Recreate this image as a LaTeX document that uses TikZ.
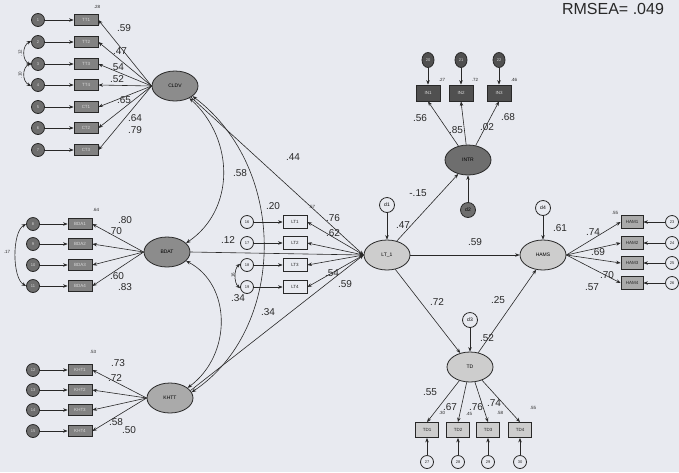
\documentclass[tikz,border=0pt]{standalone}
\usepackage{fontspec}
\setmainfont{Liberation Sans}
\usepackage{xcolor}
\usetikzlibrary{arrows.meta, shapes.geometric}
\definecolor{bgpaper}{RGB}{232,234,240}
\definecolor{ink}{RGB}{40,40,40}
\definecolor{latdark}{RGB}{140,140,140}
\definecolor{latmid}{RGB}{170,170,170}
\definecolor{latlight}{RGB}{205,205,205}
\definecolor{latintr}{RGB}{110,110,110}
\definecolor{inddark}{RGB}{130,130,130}
\definecolor{indintr}{RGB}{80,80,80}
\definecolor{errdark}{RGB}{110,110,110}

\begin{document}
\begin{tikzpicture}[
  x=1pt, y=-1pt,
  lat/.style   = {draw=ink, thick, ellipse, minimum width=46pt, minimum height=30pt,
                  inner sep=0pt, font=\fontsize{5}{6}\selectfont, fill=latdark},
  ind/.style   = {draw=ink, thick, rectangle, minimum width=24pt, minimum height=11pt,
                  inner sep=0pt, font=\fontsize{4.5}{5}\selectfont, fill=inddark,
                  text=white!85!black},
  err/.style   = {draw=ink, thick, circle, minimum size=13pt, inner sep=0pt,
                  font=\fontsize{4}{5}\selectfont, fill=errdark, text=white!85!black},
  dist/.style  = {draw=ink, thick, circle, minimum size=15pt, inner sep=0pt,
                  font=\fontsize{5}{6}\selectfont, fill=bgpaper},
  arr/.style   = {-{Stealth[length=4.5pt,width=3.5pt]}, semithick, ink},
  cov/.style   = {{Stealth[length=4.5pt,width=3.5pt]}-{Stealth[length=4.5pt,width=3.5pt]},
                  semithick, ink},
  coef/.style  = {font=\fontsize{10}{11}\selectfont, text=ink, inner sep=0pt},
  rsq/.style   = {font=\fontsize{4.5}{5}\selectfont, text=ink, inner sep=0pt},
  tiny/.style  = {font=\fontsize{4.5}{5}\selectfont, text=ink, inner sep=0pt}
]
\fill[bgpaper] (0,0) rectangle (679,472);
\useasboundingbox (0,0) rectangle (679,472);

\node[font=\fontsize{16}{18}\selectfont, text=ink] (rmsea) at (613,9) {RMSEA= .049};

%% ---- CLDV block ----
\node[lat] (cldv) at (175,86) {CLDV};
\foreach \i/\y/\t in {1/20/TT1, 2/42/TT2, 3/64/TT3, 4/85/TT4, 5/107/CT1, 6/128/CT2, 7/150/CT3}{
  \node[err] (cldve\i) at (38,\y) {\i};
  \node[ind] (cldvi\i) at (86,\y) {\t};
  \draw[arr] (cldve\i) -- (cldvi\i);
  \draw[arr] (cldv.west) -- (cldvi\i.east);
}
\foreach \v/\x/\y [count=\k] in {.59/124/28, .47/120/51, .54/117/67, .52/117/79,
                                 .65/124/100, .64/135/118, .79/135/130}
  \node[coef] (cldvc\k) at (\x,\y) {\v};
\node[rsq] (cldvr) at (97,7) {.28};
% error covariances
\draw[cov] (cldve2.170) .. controls (22,46) and (22,60) .. (cldve3.190);
\draw[cov] (cldve3.170) .. controls (22,68) and (22,81) .. (cldve4.190);
\node[tiny, rotate=90] (cldvk1) at (20,53) {.12};
\node[tiny, rotate=90] (cldvk2) at (20,75) {.10};

%% ---- BDAT block ----
\node[lat] (bdat) at (167,252) {BDAT};
\foreach \i/\y/\t [evaluate=\i as \n using int(\i+7)] in {1/224/BDA1, 2/244/BDA2, 3/265/BDA3, 4/286/BDA4}{
  \node[err] (bdate\i) at (33,\y) {\n};
  \node[ind] (bdati\i) at (80,\y) {\t};
  \draw[arr] (bdate\i) -- (bdati\i);
  \draw[arr] (bdat.west) -- (bdati\i.east);
}
\foreach \v/\x/\y [count=\k] in {.80/125/220, .70/115/231, .60/117/276, .83/125/287}
  \node[coef] (bdatc\k) at (\x,\y) {\v};
\node[rsq] (bdatr) at (96,210) {.64};
\draw[cov] (bdate1.west) .. controls (12,232) and (12,278) .. (bdate4.west);
\node[tiny] (bdatk) at (7,252) {.17};

%% ---- KHTT block ----
\node[lat, fill=latmid] (khtt) at (170,398) {KHTT};
\foreach \i/\y/\t [evaluate=\i as \n using int(\i+11)] in {1/370/KHT1, 2/390/KHT2, 3/410/KHT3, 4/431/KHT4}{
  \node[err] (khtte\i) at (33,\y) {\n};
  \node[ind] (khtti\i) at (80,\y) {\t};
  \draw[arr] (khtte\i) -- (khtti\i);
  \draw[arr] (khtt.west) -- (khtti\i.east);
}
\foreach \v/\x/\y [count=\k] in {.73/118/363, .72/115/378, .58/116/422, .50/129/430}
  \node[coef] (khttc\k) at (\x,\y) {\v};
\node[rsq] (khttr) at (93,352) {.53};

%% ---- exogenous covariances ----
\draw[cov] (cldv.-40) .. controls (235,140) and (235,210) .. (bdat.25);
\draw[cov] (cldv.-30) .. controls (290,170) and (285,330) .. (khtt.15);
\draw[cov] (bdat.-25) .. controls (232,285) and (232,355) .. (khtt.30);
\node[coef] (covc1) at (240,173) {.58};
\node[coef] (covc2) at (273,206) {.20};
\node[coef] (covc3) at (238,298) {.34};

%% ---- LT_1 block ----
\node[lat, fill=latlight] (lt) at (387,255) {LT\_1};
\node[dist] (d1) at (387,205) {d1};
\draw[arr] (d1) -- (lt);
\foreach \i/\y/\t [evaluate=\i as \n using int(\i+15)] in {1/222/LT1, 2/243/LT2, 3/265/LT3, 4/287/LT4}{
  \node[err, fill=bgpaper, text=ink] (lte\i) at (247,\y) {\n};
  \node[ind, fill=bgpaper, text=ink, minimum height=13pt] (lti\i) at (295,\y) {\t};
  \draw[arr] (lte\i) -- (lti\i);
  \draw[arr] (lt.west) -- (lti\i.east);
}
\foreach \v/\x/\y [count=\k] in {.76/333/218, .62/333/233, .54/332/273, .59/345/284}
  \node[coef] (ltc\k) at (\x,\y) {\v};
\node[rsq] (ltr) at (312,207) {.57};
\draw[cov] (lte3.170) .. controls (234,269) and (234,283) .. (lte4.190);
\node[tiny, rotate=90] (ltk) at (233,276) {.16};

% structural paths
\draw[arr] (cldv.-35) -- (lt.west);
\draw[arr] (bdat.east) -- (lt.west);
\draw[arr] (khtt.20) -- (lt.west);
\node[coef] (sc1) at (293,157) {.44};
\node[coef] (sc2) at (228,240) {.12};
\node[coef] (sc3) at (268,312) {.34};
\node[coef] (ltr2) at (403,225) {.47};

%% ---- INTR block ----
\node[lat, fill=latintr] (intr) at (468,160) {INTR};
\node[dist, fill=latintr] (d2) at (468,210) {d2};
\draw[arr] (d2) -- (intr);
\foreach \i/\x/\t [evaluate=\i as \n using int(\i+19)] in {1/428/IN1, 2/461/IN2, 3/499/IN3}{
  \node[err, ellipse, minimum width=12pt, minimum height=15pt, fill=indintr] (intre\i) at (\x,60) {\n};
  \node[ind, fill=indintr, minimum height=16pt] (intri\i) at (\x,93) {\t};
  \draw[arr] (intre\i) -- (intri\i);
  \draw[arr] (intr) -- (intri\i.south);
}
\foreach \v/\x/\y [count=\k] in {.56/420/118, .85/456/130, .02/487/127, .68/508/117}
  \node[coef] (intrc\k) at (\x,\y) {\v};
\foreach \v/\x [count=\k] in {.27/442, .72/475, .46/514}
  \node[rsq] (intrr\k) at (\x,80) {\v};
\draw[arr] (lt.55) -- (intr.-125);
\node[coef] (sc4) at (418,193) {-.15};

%% ---- HAMS block ----
\node[lat, fill=latlight] (hams) at (543,255) {HAMS};
\node[dist] (d4) at (543,208) {d4};
\draw[arr] (d4) -- (hams);
\foreach \i/\y/\t [evaluate=\i as \n using int(\i+22)] in {1/222/HAM1, 2/243/HAM2, 3/263/HAM3, 4/283/HAM4}{
  \node[err, fill=bgpaper, text=ink] (hamse\i) at (672,\y) {\n};
  \node[ind, fill=latmid, text=ink, minimum width=22pt, minimum height=13pt] (hamsi\i) at (632,\y) {\t};
  \draw[arr] (hamse\i) -- (hamsi\i);
  \draw[arr] (hams.east) -- (hamsi\i.west);
}
\foreach \v/\x/\y [count=\k] in {.74/593/232, .69/598/252, .70/607/275, .57/592/287}
  \node[coef] (hamsc\k) at (\x,\y) {\v};
\node[rsq] (hamsr) at (615,213) {.55};
\node[coef] (hamsr2) at (560,228) {.61};
\draw[arr] (lt.east) -- (hams.west);
\node[coef] (sc5) at (475,242) {.59};

%% ---- TD block ----
\node[lat, fill=latlight] (td) at (470,367) {TD};
\node[dist] (d3) at (470,320) {d3};
\draw[arr] (d3) -- (td);
\foreach \i/\x/\t [evaluate=\i as \n using int(\i+26)] in {1/427/TD1, 2/458/TD2, 3/488/TD3, 4/520/TD4}{
  \node[err, fill=bgpaper, text=ink] (tde\i) at (\x,462) {\n};
  \node[ind, fill=latlight, text=ink, minimum width=23pt, minimum height=15pt] (tdi\i) at (\x,430) {\t};
  \draw[arr] (tde\i) -- (tdi\i);
  \draw[arr] (td) -- (tdi\i.north);
}
\foreach \v/\x/\y [count=\k] in {.55/430/392, .67/450/407, .76/476/407, .74/494/403}
  \node[coef] (tdc\k) at (\x,\y) {\v};
\foreach \v/\x/\y [count=\k] in {.30/442/413, .45/469/414, .58/500/413, .55/533/408}
  \node[rsq] (tdr\k) at (\x,\y) {\v};
\node[coef] (tdr2) at (487,338) {.52};
\draw[arr] (lt.-60) -- (td.125);
\draw[arr] (td.60) -- (hams.-115);
\node[coef] (sc6) at (437,302) {.72};
\node[coef] (sc7) at (498,300) {.25};

\end{tikzpicture}
\end{document}
